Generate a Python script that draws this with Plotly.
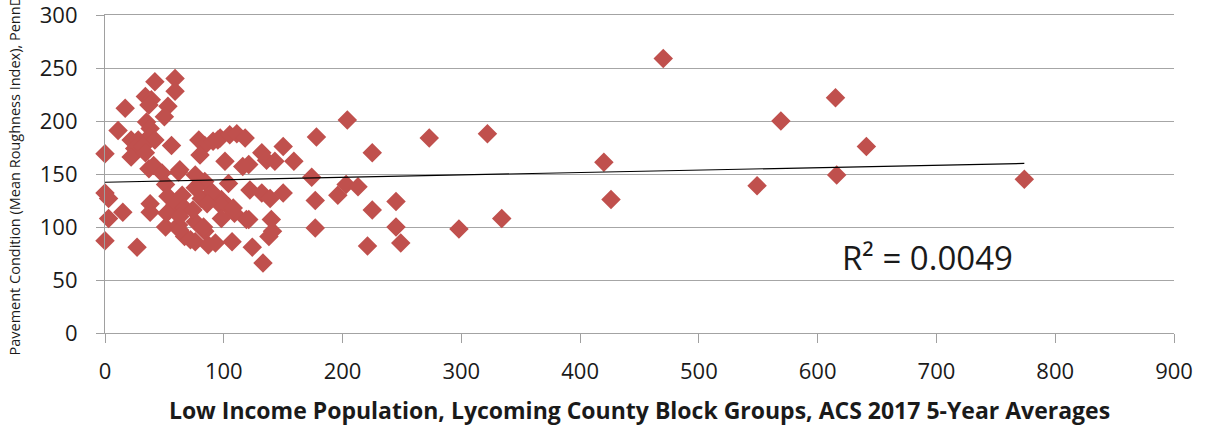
import numpy as np
import plotly.graph_objects as go

# Low income population (x) and pavement condition IRI (y)
low_income = [
    0, 0, 3, 3, 0, 11, 15, 17, 27,
    59, 42, 59, 34, 39, 53, 37, 50, 35, 38,
    22, 28, 37, 42, 25, 32, 22, 34, 56,
    37, 41, 62, 48, 63, 76, 84,
    79, 84, 91, 97, 80,
    95, 105, 111, 118,
    101, 121, 116, 132, 136, 143, 150, 159,
    104, 122, 132, 139, 150, 177, 174,
    98, 104, 109, 121, 140, 177,
    93, 107, 124, 138, 133,
    38, 38, 51, 53, 65, 59, 67, 76, 81, 90,
    51, 62, 67, 76, 84, 87, 76, 97, 98,
    63, 72, 83, 52, 63, 74, 86, 108, 119, 141,
    178, 204, 196, 203, 213, 225, 225, 245, 245, 249, 221, 273, 322, 298, 334,
    420, 426, 470, 549, 569, 615, 616, 641, 774,
]
roughness = [
    169, 132, 127, 108, 87, 191, 114, 212, 81,
    240, 237, 228, 223, 220, 214, 215, 204, 199, 193,
    182, 182, 185, 182, 174, 176, 166, 170, 177,
    155, 158, 152, 151, 154, 149, 143,
    182, 177, 181, 184, 168,
    182, 187, 188, 184,
    162, 159, 157, 170, 163, 162, 176, 162,
    141, 135, 132, 127, 132, 125, 147,
    126, 119, 113, 107, 107, 99,
    85, 86, 81, 91, 66,
    122, 114, 140, 129, 130, 121, 118, 137, 127, 133,
    100, 102, 91, 86, 96, 83, 105, 121, 108,
    97, 88, 100, 113, 110, 116, 122, 118, 107, 96,
    185, 201, 130, 140, 138, 170, 116, 124, 100, 85, 82, 184, 188, 98, 108,
    161, 126, 259, 139, 200, 222, 149, 176, 145,
]

x_ticks = [0, 100, 200, 300, 400, 500, 600, 700, 800, 900]
y_ticks = [0, 50, 100, 150, 200, 250, 300]

x_title = "Low Income Population, Lycoming County Block Groups, ACS 2017 5-Year Averages"
y_title = "Pavement Condition (Mean Roughness Index), PennDOT"
r2_text = "R² = 0.0049"

xa = np.array(low_income, dtype=float)
ya = np.array(roughness, dtype=float)
slope, intercept = np.polyfit(xa, ya, 1)
trend_x = [0, xa.max()]
trend_y = [intercept + slope * v for v in trend_x]

fig = go.Figure()
fig.add_trace(go.Scatter(
    x=low_income, y=roughness, mode="markers",
    marker=dict(symbol="diamond", size=15, color="#C0504D", line=dict(width=0)),
    cliponaxis=False, showlegend=False,
))
fig.add_trace(go.Scatter(
    x=trend_x, y=trend_y, mode="lines",
    line=dict(color="#000000", width=1.2), showlegend=False,
))

font_family = "Open Sans, Lato, sans-serif"
fig.update_layout(
    width=1206, height=426,
    margin=dict(l=105, r=32, t=15, b=93),
    paper_bgcolor="white", plot_bgcolor="white",
    font=dict(family=font_family, color="#000000"),
    xaxis=dict(
        range=[0, 900], tickvals=x_ticks, ticks="outside", ticklen=9,
        tickcolor="#A0A0A0", tickwidth=1.2, showgrid=False, zeroline=False,
        showline=True, mirror=True, linecolor="#A3A3A3", linewidth=1.2, automargin=False,
        tickfont=dict(size=22, color="#1a1a1a"), ticklabelstandoff=9,
        title=dict(text="<b>" + x_title + "</b>", font=dict(size=23, color="#1a1a1a"), standoff=20),
    ),
    yaxis=dict(
        range=[0, 300], tickvals=y_ticks, ticks="outside", ticklen=8,
        tickcolor="#A0A0A0", tickwidth=1.2, showgrid=True, gridcolor="#A6A6A6",
        gridwidth=1.2, zeroline=False, showline=True, linecolor="#A0A0A0",
        linewidth=1.2, automargin=False, ticklabeloverflow="allow",
        tickfont=dict(size=22, color="#1a1a1a"), ticklabelstandoff=14,
    ),
    annotations=[
        dict(text=y_title, textangle=-90, xref="paper", yref="paper",
             x=-0.0851, y=-0.0786, xanchor="center", yanchor="bottom",
             showarrow=False, font=dict(size=14.5, color="#1a1a1a")),
        dict(text=r2_text, xref="x", yref="y", x=619, y=71,
             xanchor="left", yanchor="middle", showarrow=False,
             font=dict(size=33, color="#1a1a1a")),
    ],
)

fig.write_html(
    "out.html",
    config={"displayModeBar": False},
    post_script="document.body.style.margin='0';document.body.style.overflow='hidden';",
)
